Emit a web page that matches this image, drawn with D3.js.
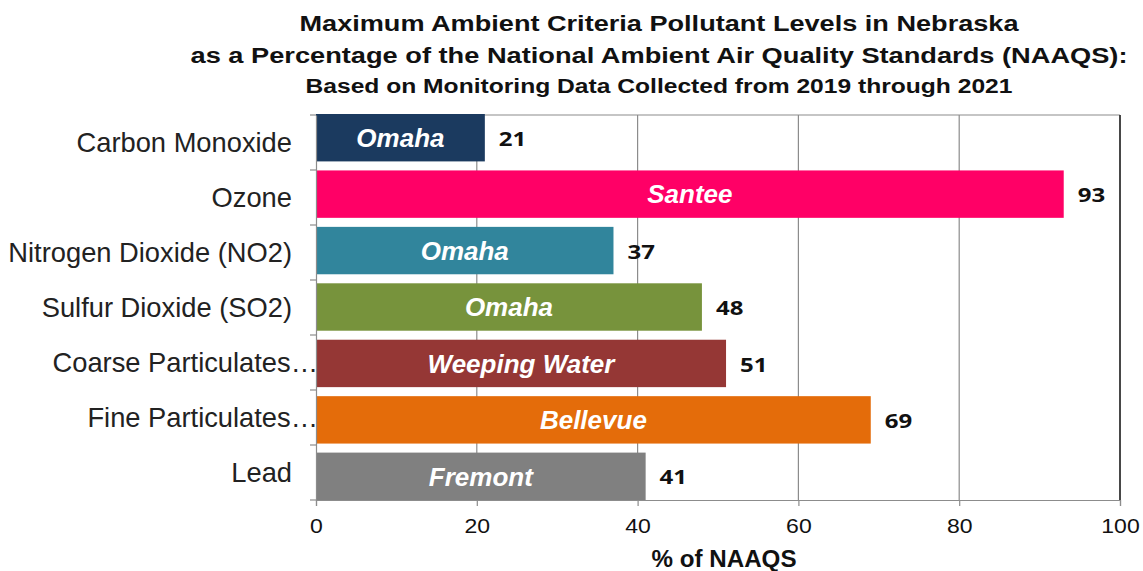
<!DOCTYPE html>
<html>
<head>
<meta charset="utf-8">
<script src="https://cdn.jsdelivr.net/npm/d3@7"></script>
<style>
  body { margin: 0; background: #fff; }
  text { font-family: "Liberation Sans", Arial, sans-serif; }
</style>
</head>
<body>
<svg id="chart"></svg>
<script>
var categories = ["Carbon Monoxide", "Ozone", "Nitrogen Dioxide (NO2)", "Sulfur Dioxide (SO2)",
                  "Coarse Particulates\u2026", "Fine Particulates\u2026", "Lead"];
var values = [21, 93, 37, 48, 51, 69, 41];
var sites = ["Omaha", "Santee", "Omaha", "Omaha", "Weeping Water", "Bellevue", "Fremont"];
var colors = ["#1b3a5f", "#ff0066", "#31859c", "#77933c", "#953735", "#e46c0a", "#808080"];
var xTicks = [0, 20, 40, 60, 80, 100];
var titleLines = ["Maximum Ambient Criteria Pollutant Levels in Nebraska",
                  "as a Percentage of the National Ambient Air Quality Standards (NAAQS):",
                  "Based on Monitoring Data Collected from 2019 through 2021"];

var width = 1143, height = 571;
var margin = {top: 115, right: 23, bottom: 71, left: 316};

var svg = d3.select("#chart").attr("width", width).attr("height", height);

var x = d3.scaleLinear().domain([0, 100]).range([margin.left, width - margin.right]);
var y = d3.scaleBand().domain(d3.range(categories.length))
    .range([margin.top - 1, height - margin.bottom]).paddingInner(0.16).paddingOuter(0);
// category slots for the axis ticks and labels
var yAxisScale = d3.scaleBand().domain(d3.range(categories.length))
    .range([margin.top, height - margin.bottom]);

// stretch text horizontally (the source image is wider than its glyphs)
function stretch(sel, k) {
  sel.each(function() {
    var len = this.getComputedTextLength();
    d3.select(this).attr("textLength", len * k).attr("lengthAdjust", "spacingAndGlyphs");
  });
}

// gridlines
svg.append("g").selectAll("line")
    .data(xTicks.slice(1))
  .enter().append("line")
    .attr("x1", function(d) { return x(d); }).attr("x2", function(d) { return x(d); })
    .attr("y1", margin.top).attr("y2", height - margin.bottom)
    .attr("stroke", "#8c8c8c").attr("stroke-width", 1.2);

// top border
svg.append("line")
    .attr("x1", x(0)).attr("x2", x(100))
    .attr("y1", margin.top).attr("y2", margin.top)
    .attr("stroke", "#8c8c8c").attr("stroke-width", 1.2);
// right border
svg.append("line")
    .attr("x1", x(100)).attr("x2", x(100))
    .attr("y1", margin.top).attr("y2", height - margin.bottom)
    .attr("stroke", "#222").attr("stroke-width", 1.5);

// bars
svg.append("g").selectAll("rect")
    .data(values)
  .enter().append("rect")
    .attr("x", x(0))
    .attr("y", function(d, i) { return y(i); })
    .attr("width", function(d) { return x(d) - x(0); })
    .attr("height", y.bandwidth())
    .attr("fill", function(d, i) { return colors[i]; });

// site labels inside bars
svg.append("g").selectAll("text")
    .data(values)
  .enter().append("text")
    .attr("x", function(d) { return (x(0) + x(d)) / 2; })
    .attr("y", function(d, i) { return y(i) + y.bandwidth() / 2; })
    .attr("dy", "0.36em")
    .attr("text-anchor", "middle")
    .style("font-size", "26px").style("font-weight", "bold").style("font-style", "italic")
    .attr("fill", "#fff")
    .text(function(d, i) { return sites[i]; });

// value labels
svg.append("g").selectAll("text")
    .data(values)
  .enter().append("text")
    .attr("x", function(d) { return x(d) + 14; })
    .attr("y", function(d, i) { return y(i) + y.bandwidth() / 2 + 1; })
    .attr("dy", "0.36em")
    .style("font-family", "'Open Sans', 'DejaVu Sans', sans-serif")
    .style("font-size", "20px").style("font-weight", "bold")
    .attr("fill", "#111")
    .text(function(d) { return d; })
    .call(stretch, 1.2);

// y axis
var yAxis = svg.append("g")
    .attr("transform", "translate(" + x(0) + ",0)")
    .call(d3.axisLeft(yAxisScale).tickSize(0).tickFormat(""));
yAxis.select(".domain").attr("stroke", "#8c8c8c").attr("stroke-width", 1.2);
var yEdges = d3.range(categories.length).map(function(i) { return yAxisScale(i); })
    .concat([height - margin.bottom]);
svg.append("g").selectAll("line")
    .data(yEdges)
  .enter().append("line")
    .attr("x1", x(0) - 6).attr("x2", x(0))
    .attr("y1", function(d) { return d; }).attr("y2", function(d) { return d; })
    .attr("stroke", "#8c8c8c").attr("stroke-width", 1.2);
svg.append("g").selectAll("text")
    .data(categories)
  .enter().append("text")
    .attr("x", function(d) { return /\u2026$/.test(d) ? x(0) + 2 : x(0) - 24; })
    .attr("y", function(d, i) { return yAxisScale(i) + yAxisScale.bandwidth() / 2; })
    .attr("dy", "0.36em")
    .attr("text-anchor", "end")
    .style("font-size", "27.3px")
    .attr("fill", "#222")
    .text(function(d) { return d; });

// x axis
var xAxis = svg.append("g")
    .attr("transform", "translate(0," + (height - margin.bottom) + ")")
    .call(d3.axisBottom(x).tickValues(xTicks).tickSize(6).tickPadding(6));
xAxis.select(".domain").attr("stroke", "#8c8c8c").attr("stroke-width", 1.2);
xAxis.selectAll(".tick line").attr("stroke", "#8c8c8c").attr("stroke-width", 1.2);
xAxis.selectAll(".tick text")
    .attr("dy", null).attr("y", 33)
    .style("font-size", "20px").attr("fill", "#111")
    .call(stretch, 1.15);

svg.append("text")
    .attr("x", 724)
    .attr("y", 567)
    .attr("text-anchor", "middle")
    .style("font-size", "23px").style("font-weight", "bold")
    .attr("fill", "#111")
    .text("% of NAAQS")
    .attr("textLength", 145).attr("lengthAdjust", "spacingAndGlyphs");

// title
var titleY = [31, 63, 93], titleSize = [22, 22, 20], titleLen = [719, 937, 707];
svg.append("g").selectAll("text")
    .data(titleLines)
  .enter().append("text")
    .attr("x", 659)
    .attr("y", function(d, i) { return titleY[i]; })
    .attr("text-anchor", "middle")
    .style("font-size", function(d, i) { return titleSize[i] + "px"; })
    .style("font-weight", "bold")
    .attr("fill", "#111")
    .attr("textLength", function(d, i) { return titleLen[i]; })
    .attr("lengthAdjust", "spacingAndGlyphs")
    .text(function(d) { return d; });
</script>
</body>
</html>
